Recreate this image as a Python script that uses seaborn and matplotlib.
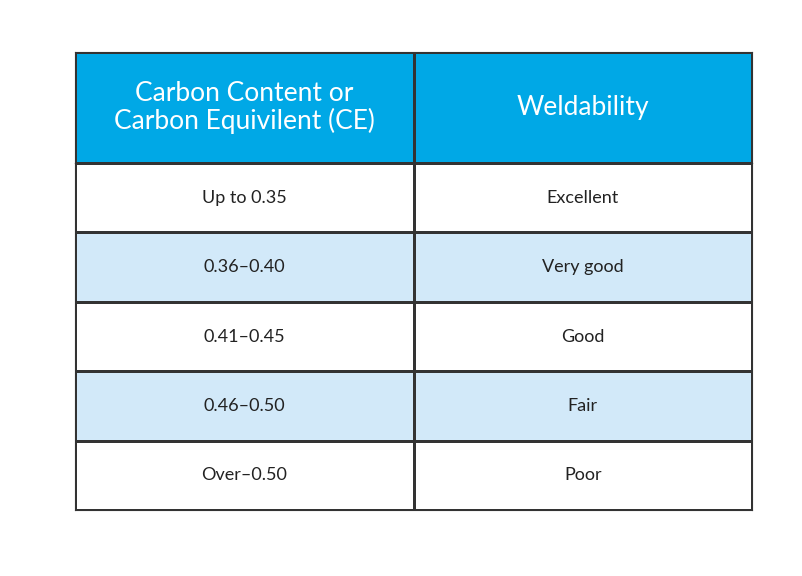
import numpy as np
import matplotlib
matplotlib.use("Agg")
import matplotlib.pyplot as plt
from matplotlib.colors import ListedColormap
import seaborn as sns

headers = ["Carbon Content or\nCarbon Equivilent (CE)", "Weldability"]
carbon = ["Up to 0.35", "0.36\u20130.40", "0.41\u20130.45", "0.46\u20130.50", "Over\u20130.50"]
weldability = ["Excellent", "Very good", "Good", "Fair", "Poor"]

plt.rcParams["font.family"] = "Lato"
fig = plt.figure(figsize=(8.02, 5.76), dpi=100)
W, H = 802, 576

# header row
axh = fig.add_axes([75 / W, (H - 163) / H, 677 / W, 111 / H])
sns.heatmap(np.zeros((1, 2)), ax=axh, cmap=ListedColormap(["#00a8e6"]), cbar=False,
            annot=np.array([headers]), fmt="", linewidths=0.8, linecolor="#333333",
            annot_kws={"color": "white", "fontsize": 19, "linespacing": 1.1},
            xticklabels=False, yticklabels=False)

# body rows: stripe pattern white / light blue
stripe = np.array([[i % 2, i % 2] for i in range(len(carbon))])
labels = np.array([carbon, weldability]).T
axb = fig.add_axes([75 / W, 66 / H, 677 / W, 347 / H])
sns.heatmap(stripe, ax=axb, cmap=ListedColormap(["white", "#d2e9f9"]), cbar=False,
            annot=labels, fmt="", linewidths=0.8, linecolor="#333333",
            annot_kws={"color": "#222222", "fontsize": 13},
            xticklabels=False, yticklabels=False, vmin=0, vmax=1)

for ax in (axh, axb):
    for s in ax.spines.values():
        s.set_visible(True)
        s.set_color("#333333")
        s.set_linewidth(0.8)

fig.savefig("out.png", dpi=100)
